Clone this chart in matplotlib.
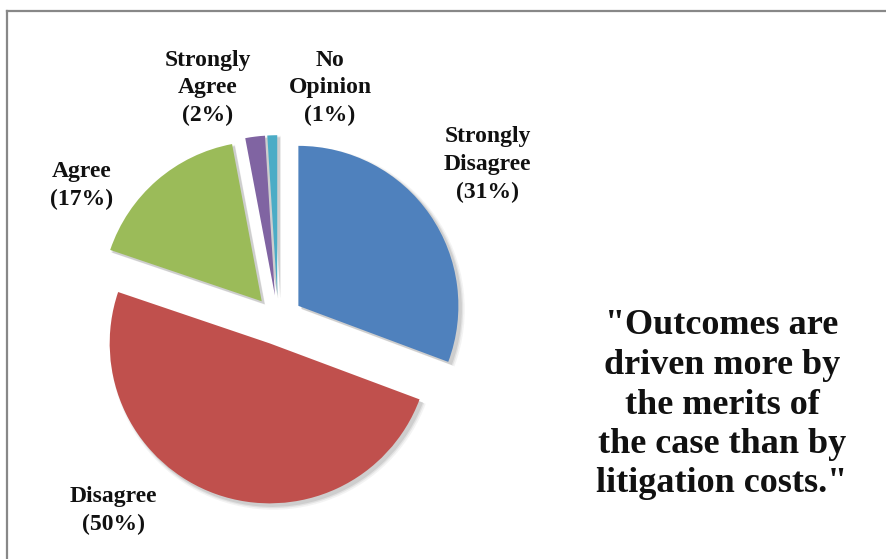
import numpy as np
import matplotlib
matplotlib.use("Agg")
import matplotlib.pyplot as plt
from matplotlib.lines import Line2D
from matplotlib.patches import Wedge

# Survey responses
categories = ["Strongly\nDisagree", "Disagree", "Agree", "Strongly\nAgree", "No\nOpinion"]
values = [31, 50, 17, 2, 1]
colors = ["#4F81BD", "#C0504D", "#9BBB59", "#8064A2", "#4BACC6"]
quote = '"Outcomes are\ndriven more by\nthe merits of\nthe case than by\nlitigation costs."'

# Label anchor points, in units of the pie radius from its centre
label_pos = [(1.31, 0.97), (-1.03, -1.19), (-1.225, 0.84), (-0.44, 1.45), (0.325, 1.45)]

W, H = 886, 559
cx, cy, R = 278, 320, 160  # pie centre and radius in pixels

fig = plt.figure(figsize=(W / 100, H / 100), dpi=100)
ax = fig.add_axes([0, 0, 1, 1])

serif = ["Liberation Serif", "DejaVu Serif"]

wedges, _ = ax.pie(
    values,
    colors=colors,
    startangle=90,
    counterclock=False,
    explode=[0.155] * len(values),
    radius=1.0,
    wedgeprops=dict(linewidth=0, zorder=3),
)

# Soft grey drop shadow behind each slice
for w in wedges:
    for off, grow, a in [(0.022, 0.018, 0.06), (0.020, 0.010, 0.09), (0.018, 0.004, 0.12)]:
        sh = Wedge((w.center[0] + off, w.center[1] - off), w.r + grow,
                   w.theta1, w.theta2, facecolor="#404040", edgecolor="none",
                   alpha=a, zorder=2)
        ax.add_patch(sh)

ax.set_xlim(-cx / R, (W - cx) / R)
ax.set_ylim(-(H - cy) / R, cy / R)
ax.set_aspect("equal")
ax.axis("off")

for cat, val, (lx, ly) in zip(categories, values, label_pos):
    ax.text(lx, ly, f"{cat}\n({val}%)", ha="center", va="center",
            fontsize=17, fontweight="bold", family=serif,
            linespacing=1.42, color="#111111", zorder=5)

ax.text((722 - cx) / R, (cy - 405) / R, quote, ha="center", va="center",
        fontsize=26, fontweight="bold", family=serif,
        linespacing=1.26, color="#111111", zorder=5)

# Chart-area frame (top and left edges)
fig.add_artist(Line2D([7 / W, 1.0], [1 - 11 / H, 1 - 11 / H],
                      transform=fig.transFigure, color="#888888", linewidth=1.6))
fig.add_artist(Line2D([7 / W, 7 / W], [0.0, 1 - 11 / H],
                      transform=fig.transFigure, color="#888888", linewidth=1.6))

fig.savefig("out.png", dpi=100, facecolor="white")
